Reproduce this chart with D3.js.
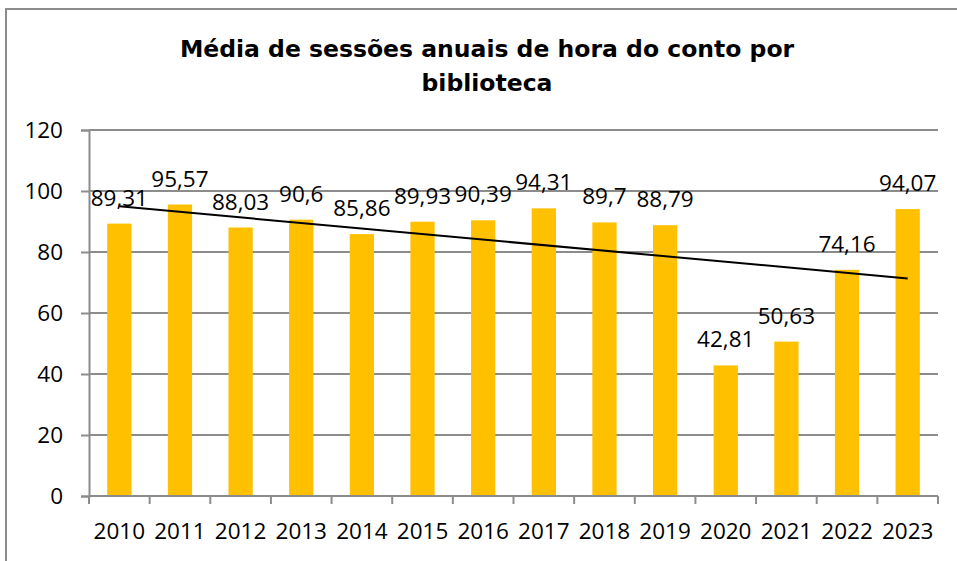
<!doctype html>
<html>
<head>
<script src="https://d3js.org/d3.v7.min.js"></script>
<style>
  body { margin: 0; background: #fff; }
  svg text { font-family: "Open Sans", "Liberation Sans", sans-serif; fill: #000; }
  .title { font-family: "DejaVu Sans", sans-serif; font-weight: bold; font-size: 23.5px; }
</style>
</head>
<body>
<script>
  // chart data
  const years = ["2010", "2011", "2012", "2013", "2014", "2015", "2016",
                 "2017", "2018", "2019", "2020", "2021", "2022", "2023"];
  const values = [89.31, 95.57, 88.03, 90.6, 85.86, 89.93, 90.39,
                  94.31, 89.7, 88.79, 42.81, 50.63, 74.16, 94.07];
  const yTicks = [0, 20, 40, 60, 80, 100, 120];
  const titleLines = ["Média de sessões anuais de hora do conto por", "biblioteca"];

  const width = 957, height = 561;
  const plotL = 89, plotR = 938, plotT = 130, plotB = 496;
  const fontPx = "22.5px";

  const svg = d3.select("body").append("svg")
      .attr("width", width)
      .attr("height", height);

  // outer chart border (cut off at right / bottom)
  svg.append("path")
      .attr("d", "M6,570 L6,9 L970,9")
      .attr("fill", "none")
      .attr("stroke", "#8c8c8c")
      .attr("stroke-width", 2);

  svg.append("text").attr("class", "title")
      .selectAll("tspan").data(titleLines).enter().append("tspan")
      .attr("x", 487)
      .attr("y", (d, i) => 57 + i * 34)
      .attr("text-anchor", "middle")
      .text(d => d);

  const x = d3.scaleBand().domain(years).range([plotL, plotR]).paddingInner(0.6).paddingOuter(0.3);
  const xOuter = d3.scaleBand().domain(years).range([plotL, plotR]);
  const y = d3.scaleLinear().domain([0, 120]).range([plotB, plotT]);

  // gridlines
  svg.append("g").selectAll("line").data(yTicks.slice(1)).enter().append("line")
      .attr("x1", plotL).attr("x2", plotR)
      .attr("y1", d => y(d)).attr("y2", d => y(d))
      .attr("stroke", "#8c8c8c").attr("stroke-width", 2);

  // y axis
  const yAxis = svg.append("g")
      .attr("transform", `translate(${plotL},0)`)
      .call(d3.axisLeft(y).tickValues(yTicks).tickSize(8).tickPadding(18));
  yAxis.select(".domain").attr("stroke", "#8c8c8c").attr("stroke-width", 2);
  yAxis.selectAll(".tick line").attr("stroke", "#8c8c8c").attr("stroke-width", 2);
  yAxis.selectAll("text").style("font-size", fontPx).attr("dy", "0.35em");

  // bars
  svg.append("g").selectAll("rect").data(values).enter().append("rect")
      .attr("x", (d, i) => x(years[i]))
      .attr("y", d => y(d))
      .attr("width", x.bandwidth())
      .attr("height", d => plotB - y(d))
      .attr("fill", "#ffc000");

  // x axis (ticks at band boundaries)
  const bounds = years.map(d => xOuter(d)).concat([plotR]);
  const xg = svg.append("g");
  xg.append("line")
      .attr("x1", plotL).attr("x2", plotR).attr("y1", plotB).attr("y2", plotB)
      .attr("stroke", "#8c8c8c").attr("stroke-width", 2);
  xg.selectAll("line.tk").data(bounds).enter().append("line")
      .attr("class", "tk")
      .attr("x1", d => d).attr("x2", d => d)
      .attr("y1", plotB).attr("y2", plotB + 8)
      .attr("stroke", "#8c8c8c").attr("stroke-width", 2);
  xg.selectAll("text").data(years).enter().append("text")
      .attr("x", d => xOuter(d) + xOuter.bandwidth() / 2)
      .attr("y", 539)
      .attr("text-anchor", "middle")
      .style("font-size", fontPx)
      .text(d => d);

  // linear trendline
  const n = values.length;
  const xs = d3.range(n);
  const mx = d3.mean(xs), my = d3.mean(values);
  const slope = d3.sum(xs, i => (i - mx) * (values[i] - my)) / d3.sum(xs, i => (i - mx) * (i - mx));
  const icpt = my - slope * mx;
  const cx = i => xOuter(years[i]) + xOuter.bandwidth() / 2;
  svg.append("line")
      .attr("x1", cx(0)).attr("y1", y(icpt))
      .attr("x2", cx(n - 1)).attr("y2", y(icpt + slope * (n - 1)))
      .attr("stroke", "#000").attr("stroke-width", 2);

  // data labels
  const fmt = v => String(v).replace(".", ",");
  svg.append("g").selectAll("text").data(values).enter().append("text")
      .attr("x", (d, i) => cx(i))
      .attr("y", d => y(d) - 18)
      .attr("text-anchor", "middle")
      .style("font-size", fontPx)
      .text(d => fmt(d));
</script>
</body>
</html>
